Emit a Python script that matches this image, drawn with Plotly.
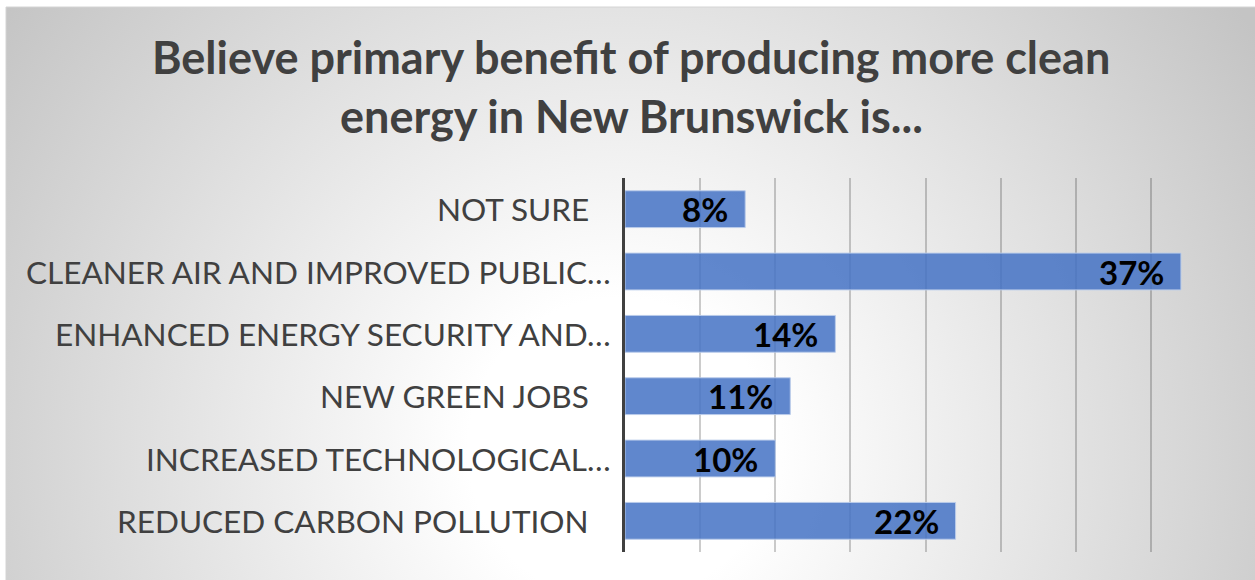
import base64
import plotly.graph_objects as go

# Survey results (top to bottom as displayed)
categories = [
    "NOT SURE",
    "CLEANER AIR AND IMPROVED PUBLIC…",
    "ENHANCED ENERGY SECURITY AND…",
    "NEW GREEN JOBS",
    "INCREASED TECHNOLOGICAL…",
    "REDUCED CARBON POLLUTION",
]
values = [8, 37, 14, 11, 10, 22]
title_lines = [
    "Believe primary benefit of producing more clean",
    "energy in New Brunswick is...",
]

W, H = 1255, 580
L, R, T, B = 625, 29, 178, 28
PW, PH = W - L - R, H - T - B


def px(x):
    """pixel x -> paper x"""
    return (x - L) / PW


def py(y):
    """pixel y (from top) -> paper y"""
    return (H - B - y) / PH


# Chart-area background: soft radial gradient (white centre, grey edges)
fx0, fy0 = 6, 7
fw, fh = W - fx0, H - fy0
svg = (
    f'<svg xmlns="http://www.w3.org/2000/svg" width="{fw}" height="{fh}" '
    f'viewBox="0 0 {fw} {fh}"><defs><radialGradient id="g" '
    f'gradientUnits="userSpaceOnUse" cx="{620 - fx0}" cy="{450 - fy0}" r="760">'
    '<stop offset="0.2" stop-color="#ffffff"/>'
    '<stop offset="1" stop-color="#c4c4c4"/></radialGradient></defs>'
    f'<rect width="{fw}" height="{fh}" fill="url(#g)"/></svg>'
)
bg_uri = "data:image/svg+xml;base64," + base64.b64encode(svg.encode()).decode()

FONT = "Lato, 'Open Sans', sans-serif"

fig = go.Figure(
    go.Bar(
        x=values,
        y=categories,
        orientation="h",
        marker=dict(
            color="rgba(68,114,196,0.85)",
            line=dict(color="rgba(185,203,234,0.95)", width=1),
        ),
        hoverinfo="skip",
    )
)

annotations = []
# Title (two lines)
for text, ycen in zip(title_lines, [57, 116]):
    annotations.append(
        dict(
            text=f"<b>{text}</b>",
            xref="paper", yref="paper",
            x=px(631), y=py(ycen),
            xanchor="center", yanchor="middle",
            showarrow=False,
            font=dict(family=FONT, size=45, color="#404040"),
        )
    )

# Category labels
for cat in categories:
    right_edge = 613 if cat.endswith("…") else 591
    annotations.append(
        dict(
            text=cat,
            xref="paper", yref="y",
            x=px(right_edge), y=cat,
            xanchor="right", yanchor="middle",
            showarrow=False,
            font=dict(family=FONT, size=31.5, color="#404040"),
        )
    )

# Value labels, inside the end of each bar
for cat, v in zip(categories, values):
    annotations.append(
        dict(
            text=f"<b>{v}%</b>",
            xref="x", yref="y",
            x=v, y=cat,
            xanchor="right", yanchor="middle",
            xshift=-15,
            showarrow=False,
            font=dict(family=FONT, size=33, color="#000000"),
        )
    )

fig.update_layout(
    width=W,
    height=H,
    margin=dict(l=L, r=R, t=T, b=B, pad=0),
    paper_bgcolor="#ffffff",
    plot_bgcolor="rgba(0,0,0,0)",
    showlegend=False,
    bargap=0.41,
    annotations=annotations,
    images=[
        dict(
            source=bg_uri,
            xref="paper", yref="paper",
            x=px(fx0), y=py(fy0),
            sizex=fw / PW, sizey=fh / PH,
            xanchor="left", yanchor="top",
            sizing="stretch",
            layer="below",
        )
    ],
    shapes=[
        dict(
            type="rect",
            xref="paper", yref="paper",
            x0=px(fx0), x1=px(W + 5), y0=py(H + 5), y1=py(fy0),
            line=dict(color="#d4d4d4", width=1),
            fillcolor="rgba(0,0,0,0)",
            layer="below",
        )
    ],
    xaxis=dict(
        range=[0, 40],
        dtick=5,
        showgrid=True,
        gridcolor="rgba(0,0,0,0.2)",
        gridwidth=1.5,
        zeroline=False,
        showline=False,
        showticklabels=False,
        ticks="",
        fixedrange=True,
    ),
    yaxis=dict(
        autorange="reversed",
        showticklabels=False,
        showgrid=False,
        zeroline=False,
        showline=True,
        linecolor="#404040",
        linewidth=3,
        ticks="",
        fixedrange=True,
    ),
)

fig.write_html("out.html", config={"displayModeBar": False})
